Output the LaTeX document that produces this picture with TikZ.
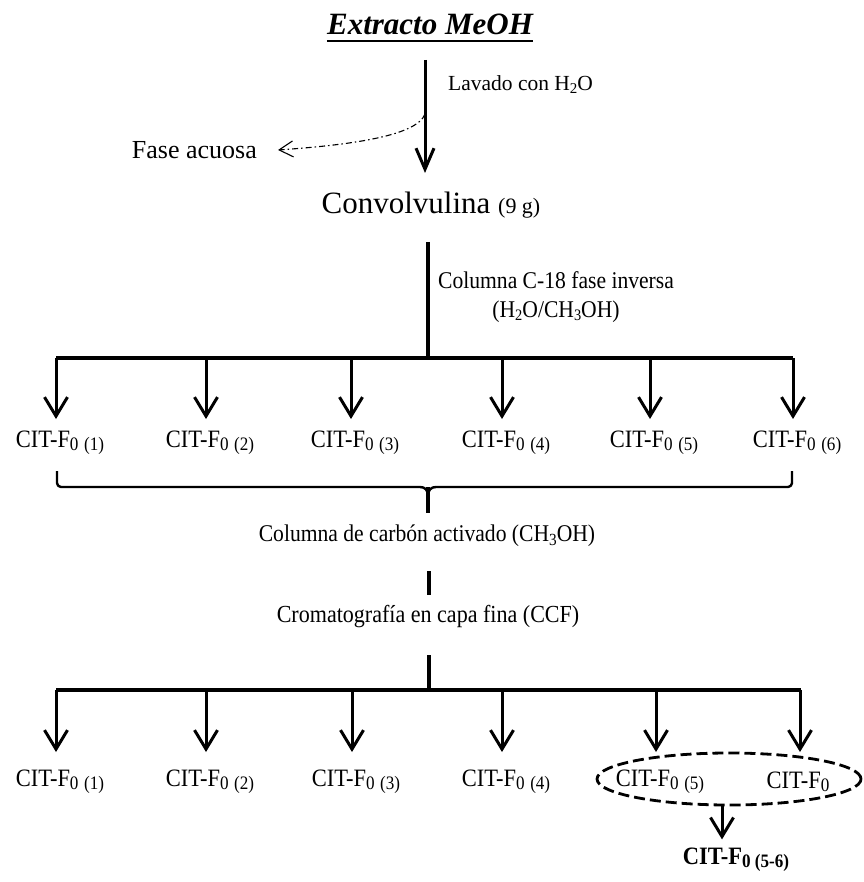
\documentclass[tikz,border=0pt]{standalone}
\usepackage{fontspec}
\setmainfont{Liberation Serif}
\newfontfamily\cnd[FakeStretch=0.9]{Liberation Serif}
\usetikzlibrary{arrows.meta,shapes.geometric}
% lowered, smaller text for subscripts
\newcommand{\dn}[2][15]{\raisebox{-0.3ex}{\fontsize{#1}{#1}\selectfont #2}}
\begin{document}
\begin{tikzpicture}[x=1pt,y=-1pt,
  stem/.style={line width=3.2pt},
  bar/.style={line width=4pt},
  arr/.style={line width=3pt,-{Straight Barb[length=19pt,width=23pt]}},
  lbl/.style={inner sep=0pt,font=\fontsize{21.5}{29}\selectfont},
  frac/.style={inner sep=0pt,font=\cnd\fontsize{25}{28}\selectfont},
  steplabel/.style={inner sep=0pt,font=\cnd\fontsize{24}{28}\selectfont},
  brace/.style={line width=2.4pt,line join=round},
]
\useasboundingbox (0,0) rectangle (863,882);

% title
\node[inner sep=0pt,anchor=base,font=\fontsize{31}{36}\selectfont\bfseries\itshape] (title) at (430,35) {Extracto MeOH};
\draw[line width=2.5pt] ([yshift=-6pt]title.base west) -- ([yshift=-6pt]title.base east);

% washing step
\coordinate (w1) at (425,60);
\coordinate (w2) at (425,173);
\coordinate (wb) at (425,114);
\draw[line width=3pt,-{Straight Barb[length=21pt,width=18pt]}] (w1) -- (w2);
\node[lbl,anchor=west] (wash) at (448,85) {Lavado con H\dn{2}O};
\node[inner sep=0pt,anchor=east,font=\fontsize{26}{30}\selectfont] (aq) at (257,150) {Fase acuosa};
\draw[line width=1.1pt,dash pattern=on 6pt off 3pt on 1.5pt off 3pt,
      -{Straight Barb[length=14pt,width=16pt,line width=1.1pt]}]
  (wb) .. controls (417,136) and (350,145) .. ([xshift=21pt]aq.east);

\node[inner sep=0pt] (conv) at (431,205) {\fontsize{31}{36}\selectfont Convolvulina \fontsize{22}{26}\selectfont(9 g)};

% C-18 column
\coordinate (c1) at (428,242);
\coordinate (c2) at (428,358);
\draw[stem] (c1) -- (c2);
\node[lbl,align=center,font=\cnd\fontsize{24}{29}\selectfont] (c18) at (556,297) {Columna C-18 fase inversa\\(H\dn[16]{2}O/CH\dn[16]{3}OH)};
\coordinate (b1l) at (56,358);
\coordinate (b1r) at (793,358);
\draw[bar] (b1l) -- (b1r);

\foreach \x [count=\i] in {56,206,351,502,650,793} {
  \coordinate (u\i) at (\x,358);
  \node[frac] (f\i) at (\x+4,443) {CIT-F\dn[19]{0\hspace{0.3em}(\i)}};
  \draw[arr] (u\i) -- (\x,419);
}

% brace collecting the fractions
\coordinate (bl) at (57,471);
\coordinate (brr) at (792,471);
\coordinate (bm) at (428,487);
\draw[brace] (bl) -- (57,483) arc[start angle=180,end angle=270,radius=4pt] -- (420,487)
  .. controls (425,487) and (428,490) .. (428,496)
  .. controls (428,490) and (431,487) .. (436,487) -- (788,487)
  arc[start angle=270,end angle=360,radius=4pt] -- (brr);
\coordinate (bt) at (428,513);
\draw[stem] (bm) -- (bt);

\node[steplabel] (carb) at (427,536) {Columna de carbón activado (CH\dn[17]{3}OH)};
\coordinate (k1) at (429,571);
\coordinate (k2) at (429,595);
\draw[stem] (k1) -- (k2);
\node[steplabel,font=\cnd\fontsize{24.5}{28}\selectfont] (ccf) at (428,617) {Cromatografía en capa fina (CCF)};
\coordinate (k3) at (429,655);
\coordinate (k4) at (429,690);
\draw[stem] (k3) -- (k4);

\coordinate (b2l) at (56,690);
\coordinate (b2r) at (801,690);
\draw[bar] (b2l) -- (b2r);

\foreach \x [count=\i] in {56,206,352,502,656} {
  \coordinate (d\i) at (\x,690);
  \node[frac] (g\i) at (\x+4,782) {CIT-F\dn[19]{0\hspace{0.3em}(\i)}};
  \draw[arr] (d\i) -- (\x,752);
}
\coordinate (d6) at (800,690);
\node[frac] (g6) at (798,782) {CIT-F\dn[19]{0}};
\draw[arr] (d6) -- (800,752);

% pooled fractions
\node[ellipse,draw,line width=2.8pt,dash pattern=on 11pt off 5pt,
      minimum width=264pt,minimum height=52pt,inner sep=0pt] (grp) at (729,779) {};
\node[inner sep=0pt,font=\cnd\fontsize{25}{28}\selectfont\bfseries] (fin) at (736,860) {CIT-F\dn[19]{0 (5-6)}};
\draw[arr] ([xshift=-7pt]grp.south) -- ++(0,33);
\end{tikzpicture}
\end{document}
